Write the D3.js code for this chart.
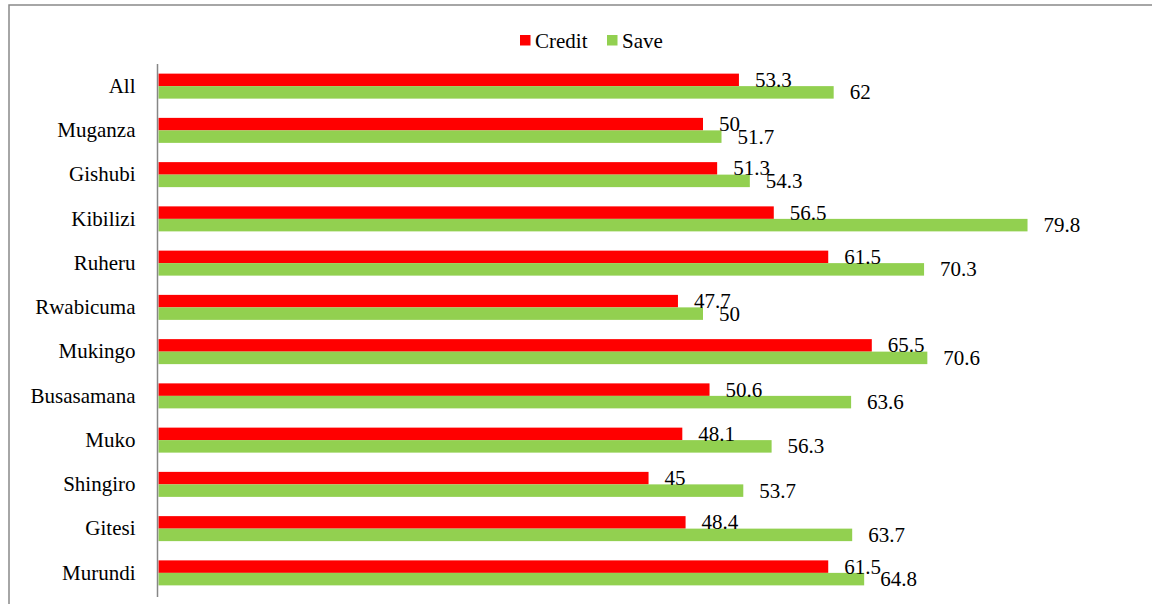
<!DOCTYPE html>
<html>
<head>
<meta charset="utf-8">
<script src="https://cdn.jsdelivr.net/npm/d3@7"></script>
<style>
  html, body { margin: 0; padding: 0; background: #fff; }
  svg text { font-family: "Liberation Serif", "Times New Roman", Times, Tinos, "DejaVu Serif", serif; }
</style>
</head>
<body>
<svg id="chart" width="1152" height="604"></svg>
<script>
// Sectors, top to bottom
const sectors = ["All", "Muganza", "Gishubi", "Kibilizi", "Ruheru", "Rwabicuma",
  "Mukingo", "Busasamana", "Muko", "Shingiro", "Gitesi", "Murundi"];
// Percentages per sector
const credit = [53.3, 50, 51.3, 56.5, 61.5, 47.7, 65.5, 50.6, 48.1, 45, 48.4, 61.5];
const save   = [62, 51.7, 54.3, 79.8, 70.3, 50, 70.6, 63.6, 56.3, 53.7, 63.7, 64.8];
const seriesNames = ["Credit", "Save"];
const seriesColors = ["#FF0000", "#92D050"];

const serif = '"Liberation Serif", "Times New Roman", Times, Tinos, "DejaVu Serif", serif';
const fontSize = 21;
const svg = d3.select("#chart");

// outer frame of the chart area
svg.append("rect")
  .attr("x", 9).attr("y", 5)
  .attr("width", 1160).attr("height", 620)
  .attr("fill", "none").attr("stroke", "#898989").attr("stroke-width", 1.5);

const x = d3.scaleLinear().domain([0, 90]).range([158.5, 1138.6]);
const y = d3.scaleBand().domain(sectors).range([64, 595]).paddingInner(0.435).paddingOuter(0.2175);
const sub = d3.scaleBand().domain(seriesNames).range([0, y.bandwidth()]);

const rows = sectors.map((s, i) => ({ sector: s, values: [credit[i], save[i]] }));

const g = svg.append("g");
const groups = g.selectAll("g.row").data(rows).join("g")
  .attr("class", "row")
  .attr("transform", d => `translate(0,${y(d.sector)})`);

groups.selectAll("rect").data(d => d.values.map((v, k) => ({ v, k })))
  .join("rect")
  .attr("x", x(0))
  .attr("y", d => sub(seriesNames[d.k]))
  .attr("width", d => x(d.v) - x(0))
  .attr("height", sub.bandwidth())
  .attr("fill", d => seriesColors[d.k]);

groups.selectAll("text.val").data(d => d.values.map((v, k) => ({ v, k })))
  .join("text")
  .attr("class", "val")
  .attr("x", d => x(d.v) + 16)
  .attr("y", d => sub(seriesNames[d.k]) + sub.bandwidth() / 2)
  .attr("dy", "0.33em")
  .attr("font-family", serif)
  .attr("font-size", fontSize)
  .attr("fill", "#000")
  .text(d => d.v);

// category axis
const yAxis = d3.axisLeft(y).tickSize(0).tickPadding(22);
const ax = svg.append("g").attr("transform", "translate(157.5,0)").call(yAxis)
  .attr("font-family", serif);
ax.select(".domain").attr("stroke", "#868686").attr("stroke-width", 1.5)
  .attr("d", "M0,64V597");
ax.selectAll("text")
  .attr("font-size", fontSize)
  .attr("font-family", serif)
  .attr("fill", "#000");

// legend
const legend = svg.append("g");
const legendItems = [
  { name: seriesNames[0], color: seriesColors[0], x: 520 },
  { name: seriesNames[1], color: seriesColors[1], x: 607 }
];
const li = legend.selectAll("g").data(legendItems).join("g")
  .attr("transform", d => `translate(${d.x},0)`);
li.append("rect").attr("x", 0).attr("y", 35).attr("width", 10.5).attr("height", 10.5)
  .attr("fill", d => d.color);
li.append("text").attr("x", 15).attr("y", 47.5)
  .attr("font-family", serif)
  .attr("font-size", fontSize).attr("fill", "#000")
  .text(d => d.name);
</script>
</body>
</html>
